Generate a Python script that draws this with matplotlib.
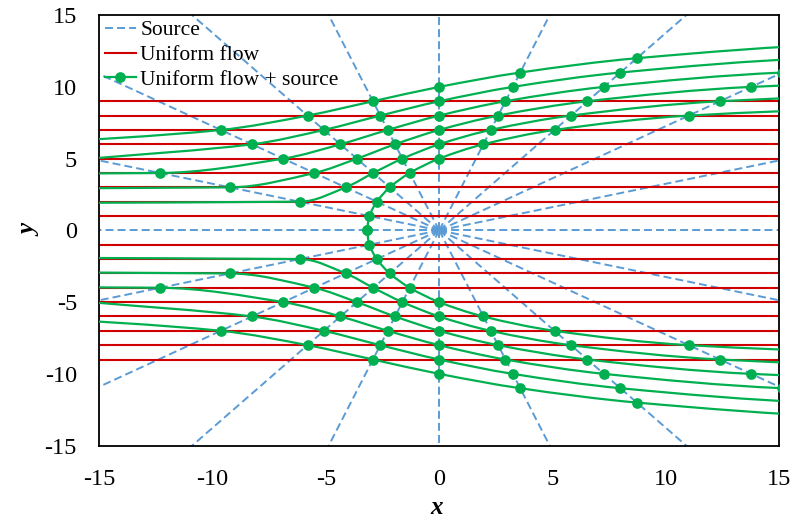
import numpy as np
import matplotlib.pyplot as plt
from matplotlib.path import Path
from matplotlib.patches import PathPatch
from matplotlib.lines import Line2D

plt.rcParams['font.family'] = ['Liberation Serif', 'DejaVu Serif']
plt.rcParams['axes.unicode_minus'] = False

# Source: radial lines from the origin (degrees)
source_angles = [0, 18, 36, 54, 72, 90, 108, 126, 144, 162,
                 180, 198, 216, 234, 252, 270, 288, 306, 324, 342]
source_length = 30

# Uniform flow: horizontal lines
uniform_y = [-9, -8, -7, -6, -5, -4, -3, -2, -1, 1, 2, 3, 4, 5, 6, 7, 8, 9]

# Uniform flow + source: streamlines in the upper half (lower half is mirrored)
psi15_x = [43.09, 17.89, 8.72, 3.57, 0.00, -2.92, -5.81, -9.63, -18.47]
psi15_y = [14, 13, 12, 11, 10, 9, 8, 7, 6]
psi14_x = [40.01, 16.52, 7.99, 3.25, 0.00, -2.60, -5.09, -8.26, -15.39]
psi14_y = [13, 12, 11, 10, 9, 8, 7, 6, 5]
psi13_x = [36.93, 15.14, 7.27, 2.92, 0.00, -2.27, -4.36, -6.88, -12.31, -100.0]
psi13_y = [12, 11, 10, 9, 8, 7, 6, 5, 4, 4]
psi12_x = [33.85, 13.76, 6.54, 2.60, 0.00, -1.95, -3.63, -5.51, -9.23, -100.0]
psi12_y = [11, 10, 9, 8, 7, 6, 5, 4, 3, 3]
psi11_x = [30.78, 12.39, 5.81, 2.27, 0.00, -1.62, -2.91, -4.13, -6.16, -100.0]
psi11_y = [10, 9, 8, 7, 6, 5, 4, 3, 2, 2]
psi10_x = [27.70, 11.01, 5.09, 1.95, 0.00, -1.30, -2.18, -2.75, -3.08, -3.18]
psi10_y = [9, 8, 7, 6, 5, 4, 3, 2, 1, 0]

streamlines = [(psi15_x, psi15_y), (psi14_x, psi14_y), (psi13_x, psi13_y),
               (psi12_x, psi12_y), (psi11_x, psi11_y), (psi10_x, psi10_y)]

blue = '#5B9BD5'
red = '#D00000'
green = '#00B050'


# smoothed line through the points (Bezier, tangent length scaled by segment)
def smooth_path(x, y, k=1 / 3):
    p = np.column_stack([x, y]).astype(float)
    n = len(p)
    d = np.zeros_like(p)
    for i in range(n):
        a = p[max(i - 1, 0)]
        b = p[min(i + 1, n - 1)]
        v = b - a
        d[i] = v / np.hypot(*v)
    verts = [p[0]]
    codes = [Path.MOVETO]
    for i in range(n - 1):
        L = np.hypot(*(p[i + 1] - p[i]))
        verts += [p[i] + d[i] * L * k, p[i + 1] - d[i + 1] * L * k, p[i + 1]]
        codes += [Path.CURVE4] * 3
    return Path(verts, codes)


fig = plt.figure(figsize=(8, 5.23), dpi=100)
ax = fig.add_axes([0.124, 0.148, 0.85, 0.823])

dash = (0, (4.1, 2.1))
for ang in source_angles:
    t = np.deg2rad(ang)
    ax.plot([0, source_length * np.cos(t)], [0, source_length * np.sin(t)],
            color=blue, lw=1.4, ls=dash, zorder=1)

ax.hlines(uniform_y, -15, 15, color=red, lw=1.5, zorder=2)

for sx, sy in streamlines:
    sx = np.array(sx)
    sy = np.array(sy, dtype=float)
    for yy in (sy, -sy):
        patch = PathPatch(smooth_path(sx, yy), fill=False, edgecolor=green,
                          lw=1.6, zorder=3)
        ax.add_patch(patch)
        ax.plot(sx, yy, 'o', color=green, ms=7.7, mec='none', zorder=4)

ax.set_xlim(-15, 15)
ax.set_ylim(-15, 15)
ax.set_xticks([-15, -10, -5, 0, 5, 10, 15])
ax.set_yticks([-15, -10, -5, 0, 5, 10, 15])
ax.tick_params(length=0, labelsize=17.5)
ax.tick_params(axis='x', pad=17)
ax.tick_params(axis='y', pad=16)
for s in ax.spines.values():
    s.set_linewidth(1.3)
    s.set_color('black')

fig.text(437 / 800, 1 - 508 / 523, 'x', ha='center', va='center',
         fontsize=18, fontweight='bold', fontstyle='italic')
fig.text(30 / 800, 1 - 230 / 523, 'y', ha='center', va='center', rotation=90,
         fontsize=18, fontweight='bold', fontstyle='italic')

handles = [
    Line2D([], [], color=blue, lw=1.4, ls=dash),
    Line2D([], [], color=red, lw=1.5),
    Line2D([], [], color=green, lw=1.6, marker='o', ms=7.7, mec='none'),
]
labels = ['Source', 'Uniform flow', 'Uniform flow + source']
ax.legend(handles, labels, loc='upper left', bbox_to_anchor=(0.005, 0.993),
          frameon=False, fontsize=15.5, handlelength=1.45, handletextpad=0.2,
          labelspacing=0.22, borderaxespad=0, borderpad=0.1)

fig.savefig('out.png', dpi=100)
